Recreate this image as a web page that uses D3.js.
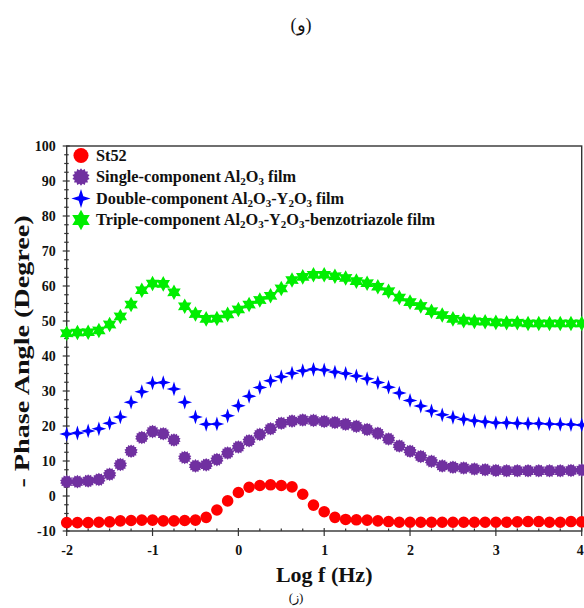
<!DOCTYPE html>
<html>
<head>
<meta charset="utf-8">
<script src="https://cdn.jsdelivr.net/npm/d3@7"></script>
<style>
  html, body { margin: 0; padding: 0; background: #fff; }
  svg { display: block; }
</style>
</head>
<body>
<svg id="chart" width="584" height="608"></svg>
<script>
// ---------- DATA ----------
const logF = [-2, -1.875, -1.75, -1.625, -1.5, -1.375, -1.25, -1.125, -1, -0.875, -0.75, -0.625, -0.5, -0.375, -0.25, -0.125,
  0, 0.125, 0.25, 0.375, 0.5, 0.625, 0.75, 0.875, 1, 1.125, 1.25, 1.375, 1.5, 1.625, 1.75, 1.875,
  2, 2.125, 2.25, 2.375, 2.5, 2.625, 2.75, 2.875, 3, 3.125, 3.25, 3.375, 3.5, 3.625, 3.75, 3.875, 4];

const st52 = [-7.6, -7.6, -7.6, -7.5, -7.4, -7.1, -7.0, -6.9, -6.9, -7.1, -7.1, -7.0, -6.9, -6.1, -4.0, -1.4,
  1.0, 2.5, 3.0, 3.2, 3.0, 2.6, 0.5, -2.6, -4.5, -6.1, -6.7, -6.8, -6.9, -7.1, -7.3, -7.5,
  -7.5, -7.5, -7.5, -7.5, -7.5, -7.5, -7.5, -7.5, -7.5, -7.5, -7.4, -7.3, -7.3, -7.5, -7.5, -7.3, -7.4];

const single = [4.1, 4.1, 4.3, 4.7, 6.2, 9.0, 12.8, 16.7, 18.4, 17.8, 16.0, 11.0, 8.6, 8.9, 10.4, 12.3,
  14.0, 15.8, 17.6, 19.2, 20.8, 21.4, 21.7, 21.6, 21.3, 21.0, 20.5, 19.9, 19.0, 17.9, 16.3, 14.3,
  12.8, 11.3, 9.9, 8.6, 8.2, 8.0, 7.7, 7.5, 7.3, 7.2, 7.2, 7.2, 7.2, 7.2, 7.2, 7.3, 7.4];

const doubleComp = [17.7, 18.0, 18.6, 19.2, 20.8, 22.6, 26.8, 29.8, 32.3, 32.4, 30.6, 26.8, 22.6, 20.5, 20.6, 22.9,
  25.8, 28.5, 31.0, 32.9, 34.1, 35.1, 35.8, 36.2, 36.0, 35.4, 35.0, 34.3, 33.5, 32.4, 31.1, 29.4,
  27.3, 25.7, 24.3, 23.2, 22.5, 21.9, 21.5, 21.2, 20.9, 20.9, 20.8, 20.7, 20.7, 20.6, 20.5, 20.4, 20.3];

const triple = [46.5, 46.7, 46.8, 47.3, 49.0, 51.3, 54.7, 58.8, 60.7, 60.6, 58.2, 54.2, 52.0, 50.6, 50.7, 51.9,
  53.3, 54.7, 56.0, 57.2, 59.3, 61.7, 62.6, 63.2, 63.2, 62.8, 62.3, 61.4, 60.8, 59.8, 58.5, 56.7,
  55.4, 54.3, 52.8, 51.7, 50.6, 50.1, 49.9, 49.8, 49.6, 49.5, 49.5, 49.3, 49.3, 49.3, 49.3, 49.3, 49.3];

const xTicks = [-2, -1, 0, 1, 2, 3, 4];
const yTicks = [-10, 0, 10, 20, 30, 40, 50, 60, 70, 80, 90, 100];

// legend label parts: [text, isSubscript]
const seriesNames = [
  [["St52", false]],
  [["Single-component Al", false], ["2", true], ["O", false], ["3", true], [" film", false]],
  [["Double-component Al", false], ["2", true], ["O", false], ["3", true], ["-Y", false], ["2", true], ["O", false], ["3", true], [" film", false]],
  [["Triple-component Al", false], ["2", true], ["O", false], ["3", true], ["-Y", false], ["2", true], ["O", false], ["3", true], ["-benzotriazole film", false]]
];

// ---------- MARKER SHAPES ----------
function starPath(n, ro, ri, rot) {
  const pts = [];
  for (let i = 0; i < 2 * n; i++) {
    const r = i % 2 === 0 ? ro : ri;
    const a = rot + Math.PI * i / n;
    pts.push([r * Math.sin(a), -r * Math.cos(a)]);
  }
  return "M" + pts.map(p => p[0].toFixed(2) + "," + p[1].toFixed(2)).join("L") + "Z";
}
function circlePath(r) {
  return d3.symbol(d3.symbolCircle, Math.PI * r * r)();
}
const markers = [
  { color: "#ff0000", path: s => circlePath(5.8 * s) },
  { color: "#7030a0", path: s => starPath(14, 6.8 * s, 5.4 * s, 0) },
  { color: "#0000ff", path: s => starPath(4, 7.4 * s, 2.5 * s, 0) },
  { color: "#00ee00", path: s => starPath(6, 7.8 * s, 4.4 * s, 0) }
];
const seriesData = [st52, single, doubleComp, triple];

// ---------- LAYOUT ----------
const svg = d3.select("#chart");
const pL = 66.7, pR = 581.7, pT = 146, pB = 531;
const x = d3.scaleLinear().domain([-2, 4]).range([pL, pR]);
const y = d3.scaleLinear().domain([-10, 100]).range([pB, pT]);
const serif = "'Liberation Serif', 'Times New Roman', serif";
const axisColor = "#333";

// Frame
svg.append("rect")
  .attr("x", pL).attr("y", pT)
  .attr("width", pR - pL).attr("height", pB - pT)
  .attr("fill", "none").attr("stroke", axisColor).attr("stroke-width", 1.4);

const xMinor = d3.range(-2, 4.001, 0.25).filter(v => Math.abs(v - Math.round(v)) > 1e-6);
const yMinor = d3.range(-10, 100.001, 2.5).filter(v => Math.abs(v / 10 - Math.round(v / 10)) > 1e-6);

const fmt = d => d < 0 ? "-" + Math.abs(d) : String(d);

const xAxis = d3.axisBottom(x).tickValues(xTicks).tickSize(0).tickPadding(14).tickFormat(fmt);
const gx = svg.append("g").attr("transform", `translate(0,${pB})`).call(xAxis);
gx.select(".domain").remove();
gx.selectAll("text").attr("font-family", serif).attr("font-weight", "bold").attr("font-size", 14).attr("fill", "#111");
// keep the last label inside the page edge
gx.selectAll("text").filter(d => d === 4).attr("text-anchor", "end").attr("dx", 1.5);

const yAxis = d3.axisLeft(y).tickValues(yTicks).tickSize(0).tickPadding(11).tickFormat(fmt);
const gy = svg.append("g").attr("transform", `translate(${pL},0)`).call(yAxis);
gy.select(".domain").remove();
gy.selectAll("text").attr("font-family", serif).attr("font-weight", "bold").attr("font-size", 14).attr("fill", "#111");

const ticks = svg.append("g").attr("stroke", axisColor).attr("stroke-width", 1.2);
ticks.append("g").selectAll("line").data(xTicks).join("line")
  .attr("x1", d => x(d)).attr("x2", d => x(d)).attr("y1", pB - 3).attr("y2", pB + 5);
ticks.append("g").selectAll("line").data(xMinor).join("line")
  .attr("x1", d => x(d)).attr("x2", d => x(d)).attr("y1", pB - 2.5).attr("y2", pB);
ticks.append("g").selectAll("line").data(yTicks).join("line")
  .attr("y1", d => y(d)).attr("y2", d => y(d)).attr("x1", pL - 4).attr("x2", pL + 3);
ticks.append("g").selectAll("line").data(yMinor).join("line")
  .attr("y1", d => y(d)).attr("y2", d => y(d)).attr("x1", pL - 2.5).attr("x2", pL + 2);

// Series markers
seriesData.forEach((vals, si) => {
  const m = markers[si];
  svg.append("g").selectAll("path").data(logF.map((f, i) => [f, vals[i]])).join("path")
    .attr("transform", d => `translate(${x(d[0])},${y(d[1])})`)
    .attr("d", m.path(1))
    .attr("fill", m.color);
});

// Legend
const legend = svg.append("g");
const legRows = [155.5, 177, 198.5, 220];
seriesNames.forEach((parts, i) => {
  legend.append("path")
    .attr("transform", `translate(81,${legRows[i]})`)
    .attr("d", markers[i].path(1.3))
    .attr("fill", markers[i].color);
  const t = legend.append("text")
    .attr("x", 96).attr("y", legRows[i] + 5)
    .attr("font-family", serif).attr("font-weight", "bold").attr("font-size", 16.3).attr("fill", "#111");
  let inSub = false;
  parts.forEach(p => {
    const ts = t.append("tspan").text(p[0]);
    if (p[1]) ts.attr("font-size", 11);
    if (p[1] && !inSub) { ts.attr("dy", 3); inSub = true; }
    else if (!p[1] && inSub) { ts.attr("dy", -3); inSub = false; }
  });
});

// Axis titles
svg.append("text")
  .attr("x", x(1)).attr("y", 582)
  .attr("text-anchor", "middle")
  .attr("font-family", serif).attr("font-weight", "bold").attr("font-size", 22).attr("fill", "#111")
  .text("Log f (Hz)");

svg.append("text")
  .attr("transform", `translate(29,${(pT + pB) / 2 + 13}) rotate(-90) scale(1.34,1)`)
  .attr("text-anchor", "middle")
  .attr("font-family", serif).attr("font-weight", "bold").attr("font-size", 21).attr("fill", "#111")
  .text("- Phase Angle (Degree)");

// Panel captions
svg.append("text")
  .attr("x", 301).attr("y", 31)
  .attr("text-anchor", "middle")
  .attr("font-family", serif).attr("font-size", 18).attr("fill", "#111")
  .text("(و)");
svg.append("text")
  .attr("x", 296).attr("y", 602)
  .attr("text-anchor", "middle")
  .attr("font-family", serif).attr("font-size", 13).attr("fill", "#111")
  .text("(ز)");
</script>
</body>
</html>
